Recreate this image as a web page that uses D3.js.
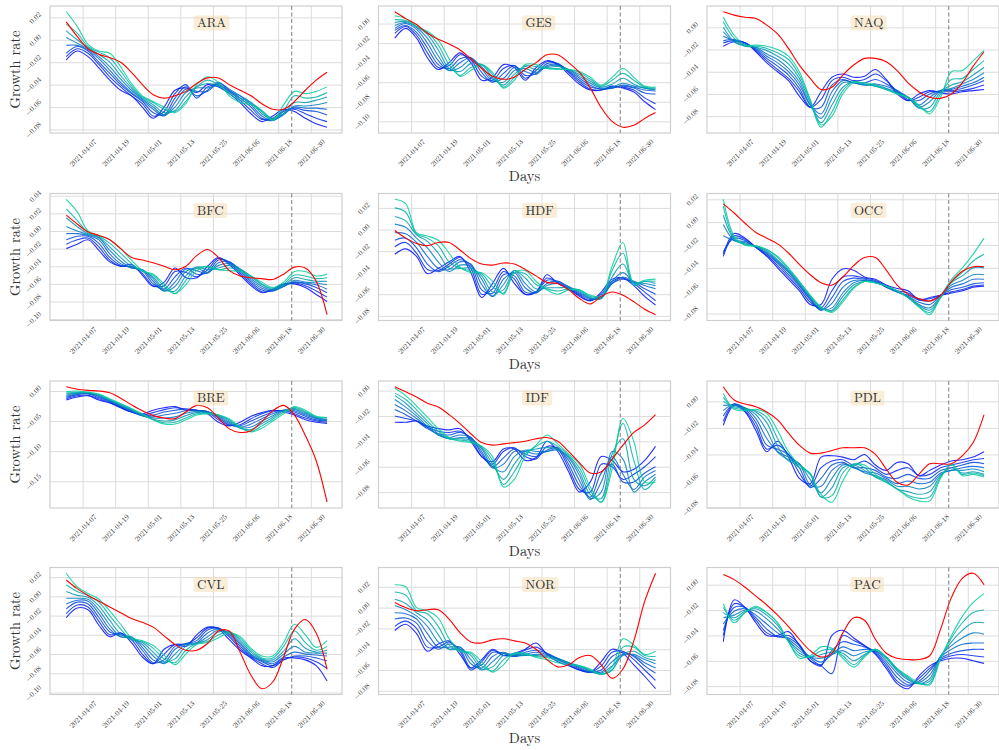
<!DOCTYPE html>
<html>
<head>
<meta charset="utf-8">
<script src="https://cdn.jsdelivr.net/npm/d3@7"></script>
<style>
  body { margin: 0; background: #fff; }
  svg text { font-family: "Latin Modern Roman", "CMU Serif", "Liberation Serif", "DejaVu Serif", serif; fill: #333; }
</style>
</head>
<body>
<svg id="chart" width="999" height="750"></svg>
<script>
// days of the estimates (every 4 days)
var dates = ["2021-04-01","2021-04-05","2021-04-09","2021-04-13","2021-04-17","2021-04-21","2021-04-25",
  "2021-04-29","2021-05-03","2021-05-07","2021-05-11","2021-05-15","2021-05-19","2021-05-23","2021-05-27",
  "2021-05-31","2021-06-04","2021-06-08","2021-06-12","2021-06-16","2021-06-20","2021-06-24","2021-06-28",
  "2021-07-02","2021-07-06"];
var xTicks = ["2021-04-07","2021-04-19","2021-05-01","2021-05-13","2021-05-25","2021-06-06","2021-06-18","2021-06-30"];
var splitDate = "2021-06-23";

// growth rate x 1000, runs ordered from first (blue) to last (green), *_ref = red curve
var ARA = [
  [-18,-10,-15,-25,-36,-45,-50,-60,-70,-60,-45,-43,-47,-40,-42,-48,-56,-66,-73,-68,-62,-64,-70,-75,-78],
  [-15,-8,-12,-22,-33,-42,-50,-57,-68,-64,-48,-40,-52,-42,-40,-46,-54,-63,-71,-70,-63,-62,-66,-70,-73],
  [-12,-6,-10,-20,-30,-40,-48,-55,-65,-67,-52,-42,-50,-45,-38,-45,-52,-60,-70,-72,-64,-61,-63,-64,-67],
  [-5,-5,-9,-17,-27,-38,-47,-54,-62,-68,-56,-44,-46,-46,-39,-44,-50,-58,-68,-72,-66,-60,-61,-61,-62],
  [2,-3,-8,-15,-24,-35,-45,-53,-60,-67,-60,-47,-43,-43,-41,-46,-50,-56,-66,-71,-67,-59,-59,-58,-56],
  [8,0,-7,-13,-20,-32,-43,-52,-58,-65,-63,-51,-42,-39,-41,-47,-52,-56,-64,-70,-66,-56,-56,-54,-51],
  [14,6,-6,-11,-16,-28,-41,-51,-56,-62,-64,-55,-42,-36,-40,-48,-54,-57,-63,-71,-63,-50,-52,-51,-47],
  [25,12,-4,-10,-12,-24,-39,-50,-55,-60,-65,-57,-40,-33,-38,-50,-56,-58,-64,-72,-58,-46,-48,-46,-42]];
var ARA_ref = [16,3,-8,-13,-16,-20,-29,-40,-49,-52,-50,-46,-39,-34,-34,-40,-45,-50,-57,-62,-62,-55,-45,-36,-29];

var BFC = [
  [-20,-15,-10,-22,-35,-40,-38,-50,-63,-58,-42,-53,-53,-40,-30,-38,-50,-62,-70,-66,-60,-60,-64,-72,-80],
  [-15,-10,-8,-18,-33,-40,-40,-48,-62,-62,-46,-47,-52,-44,-31,-36,-48,-60,-69,-67,-61,-59,-62,-68,-75],
  [-10,-6,-6,-14,-30,-39,-41,-45,-60,-66,-52,-42,-49,-47,-33,-35,-46,-58,-67,-68,-62,-58,-60,-64,-70],
  [-3,-3,-5,-10,-26,-37,-42,-44,-57,-68,-58,-43,-45,-48,-36,-35,-44,-56,-65,-68,-63,-58,-59,-61,-66],
  [5,0,-4,-8,-22,-34,-42,-44,-54,-68,-63,-46,-42,-47,-39,-37,-43,-54,-63,-67,-63,-56,-58,-59,-61],
  [15,5,-3,-7,-18,-30,-40,-45,-52,-66,-68,-51,-41,-44,-42,-39,-43,-52,-61,-66,-62,-53,-55,-57,-57],
  [25,12,-2,-6,-14,-25,-37,-46,-50,-63,-71,-56,-42,-41,-44,-42,-44,-51,-60,-65,-60,-50,-51,-54,-53],
  [36,22,0,-5,-10,-20,-33,-45,-49,-60,-71,-61,-45,-40,-44,-45,-46,-51,-58,-64,-58,-46,-46,-51,-49]];
var BFC_ref = [18,8,-1,-5,-10,-20,-30,-33,-36,-40,-44,-40,-28,-21,-30,-45,-51,-53,-54,-55,-49,-41,-42,-57,-95];

var BRE = [
  [-15,-10,-8,-15,-20,-28,-35,-38,-32,-28,-26,-32,-32,-38,-52,-58,-52,-42,-36,-32,-35,-40,-48,-52,-54],
  [-13,-8,-7,-13,-19,-27,-35,-40,-36,-31,-28,-30,-32,-35,-48,-57,-56,-46,-38,-33,-33,-38,-45,-50,-52],
  [-11,-6,-5,-11,-18,-26,-34,-41,-40,-35,-32,-30,-32,-34,-45,-56,-58,-50,-42,-35,-32,-35,-42,-48,-50],
  [-9,-5,-4,-9,-17,-25,-33,-41,-43,-40,-37,-33,-33,-34,-43,-54,-60,-55,-46,-38,-32,-33,-40,-46,-49],
  [-7,-4,-4,-8,-16,-24,-32,-41,-45,-45,-43,-37,-34,-35,-41,-52,-61,-60,-50,-41,-32,-31,-38,-45,-48],
  [-5,-3,-3,-7,-15,-23,-31,-40,-47,-50,-48,-41,-36,-36,-40,-50,-62,-64,-54,-44,-33,-29,-36,-44,-47],
  [-3,-2,-2,-6,-14,-22,-30,-39,-48,-53,-52,-45,-38,-37,-40,-48,-61,-67,-58,-47,-35,-27,-34,-43,-45],
  [-1,0,-2,-5,-13,-21,-29,-38,-48,-55,-55,-48,-40,-38,-40,-46,-60,-68,-62,-50,-38,-26,-32,-42,-44]];
var BRE_ref = [7,3,1,0,-3,-12,-23,-33,-41,-45,-46,-35,-24,-28,-45,-63,-69,-66,-51,-33,-24,-40,-74,-116,-185];

var CVL = [
  [-22,-12,-14,-30,-42,-38,-48,-63,-70,-55,-50,-52,-40,-32,-34,-45,-56,-64,-72,-72,-64,-64,-66,-72,-88],
  [-18,-9,-11,-26,-40,-38,-45,-60,-70,-60,-50,-50,-43,-33,-33,-42,-54,-63,-70,-74,-66,-63,-64,-68,-75],
  [-13,-6,-8,-22,-37,-40,-43,-56,-69,-66,-52,-49,-46,-35,-33,-40,-52,-62,-68,-72,-66,-62,-62,-64,-67],
  [-8,-4,-5,-18,-34,-42,-42,-53,-66,-69,-55,-49,-48,-38,-34,-39,-50,-61,-67,-70,-63,-58,-60,-61,-62],
  [-2,-2,-3,-14,-30,-42,-43,-50,-62,-70,-60,-50,-49,-42,-35,-38,-48,-60,-66,-68,-60,-52,-58,-59,-59],
  [5,1,-1,-10,-25,-39,-45,-48,-58,-68,-65,-52,-49,-45,-37,-37,-46,-58,-65,-66,-57,-44,-54,-58,-56],
  [12,5,1,-6,-20,-34,-45,-47,-54,-65,-69,-56,-49,-47,-40,-37,-44,-56,-64,-64,-52,-36,-48,-56,-52],
  [24,10,3,-3,-15,-29,-43,-46,-51,-61,-71,-60,-50,-48,-43,-38,-42,-54,-62,-62,-48,-29,-40,-53,-46]];
var CVL_ref = [17,8,1,-5,-11,-17,-23,-27,-32,-41,-50,-56,-56,-49,-36,-36,-58,-82,-96,-89,-63,-34,-24,-38,-76];

var GES = [
  [-15,-5,-15,-35,-47,-40,-30,-40,-58,-55,-42,-45,-58,-45,-38,-42,-52,-62,-68,-68,-64,-66,-70,-80,-88],
  [-10,-3,-12,-30,-45,-43,-32,-37,-54,-58,-46,-43,-56,-48,-39,-41,-50,-60,-67,-68,-65,-65,-68,-76,-82],
  [-7,-2,-9,-25,-42,-46,-36,-35,-50,-60,-51,-43,-53,-51,-41,-41,-49,-58,-65,-67,-66,-64,-66,-71,-72],
  [-5,0,-6,-20,-38,-48,-40,-35,-46,-59,-56,-45,-49,-52,-43,-42,-48,-56,-63,-67,-66,-63,-65,-68,-69],
  [-2,1,-4,-15,-33,-48,-45,-37,-44,-57,-60,-48,-46,-50,-44,-43,-47,-54,-61,-66,-65,-61,-64,-66,-68],
  [1,2,-3,-11,-27,-46,-49,-41,-42,-55,-63,-52,-44,-47,-45,-44,-47,-52,-59,-65,-62,-56,-62,-66,-67],
  [4,3,-3,-9,-22,-42,-53,-45,-42,-52,-65,-55,-43,-44,-46,-46,-47,-50,-57,-64,-58,-51,-58,-65,-66],
  [8,5,-3,-8,-17,-36,-54,-48,-42,-50,-66,-58,-42,-42,-46,-47,-47,-49,-55,-63,-55,-46,-55,-64,-65]];
var GES_ref = [12,5,-1,-10,-16,-21,-27,-36,-46,-54,-57,-55,-47,-40,-32,-32,-40,-50,-66,-86,-100,-106,-104,-97,-91];

var HDF = [
  [-23,-18,-25,-41,-36,-30,-25,-40,-63,-50,-36,-50,-60,-58,-42,-50,-55,-62,-66,-58,-46,-45,-52,-62,-70],
  [-16,-12,-22,-37,-38,-32,-26,-36,-60,-55,-39,-46,-60,-58,-45,-49,-55,-61,-66,-60,-48,-45,-50,-58,-66],
  [-10,-8,-17,-32,-39,-34,-28,-33,-56,-59,-42,-43,-58,-58,-47,-48,-54,-60,-65,-62,-50,-46,-49,-55,-60],
  [-3,-4,-12,-25,-36,-37,-30,-32,-51,-62,-46,-40,-54,-59,-50,-48,-53,-59,-64,-63,-50,-44,-48,-52,-55],
  [5,2,-8,-17,-30,-39,-33,-34,-46,-62,-51,-38,-50,-58,-52,-50,-53,-58,-64,-64,-48,-40,-49,-50,-52],
  [12,8,-5,-11,-22,-36,-36,-36,-43,-58,-56,-38,-45,-55,-54,-54,-54,-57,-63,-64,-44,-32,-50,-48,-50],
  [20,16,-4,-8,-15,-30,-36,-38,-41,-53,-59,-40,-41,-51,-55,-57,-55,-56,-62,-63,-38,-22,-52,-48,-48],
  [28,24,-3,-6,-10,-22,-35,-40,-40,-48,-60,-40,-38,-48,-56,-60,-56,-56,-61,-62,-34,-12,-50,-47,-46]];
var HDF_ref = [-1,-8,-13,-15,-12,-12,-19,-27,-32,-33,-31,-32,-37,-43,-49,-50,-56,-64,-69,-62,-58,-61,-67,-74,-79];

var IDF = [
  [-25,-25,-24,-28,-30,-31,-30,-40,-52,-56,-46,-46,-55,-53,-40,-48,-64,-80,-72,-52,-55,-64,-62,-55,-44],
  [-20,-22,-24,-29,-32,-33,-32,-38,-52,-58,-48,-45,-52,-54,-44,-46,-61,-78,-80,-58,-60,-70,-66,-60,-52],
  [-15,-19,-24,-30,-34,-35,-33,-37,-50,-60,-53,-46,-50,-52,-47,-45,-58,-75,-84,-65,-58,-72,-72,-65,-60],
  [-11,-16,-22,-29,-35,-37,-35,-37,-48,-61,-58,-48,-48,-50,-48,-46,-55,-71,-86,-72,-52,-66,-78,-68,-63],
  [-7,-13,-20,-28,-35,-38,-37,-38,-46,-60,-64,-52,-47,-48,-48,-47,-53,-67,-85,-80,-48,-54,-80,-72,-66],
  [-4,-10,-18,-26,-34,-38,-38,-39,-45,-58,-70,-58,-48,-46,-45,-46,-52,-64,-82,-85,-50,-38,-70,-75,-68],
  [-2,-7,-15,-24,-32,-38,-39,-40,-44,-55,-74,-64,-50,-44,-40,-44,-51,-61,-79,-88,-56,-26,-55,-78,-70],
  [2,-4,-12,-21,-30,-37,-40,-41,-44,-52,-76,-70,-52,-43,-35,-42,-50,-58,-76,-88,-62,-22,-40,-72,-72]];
var IDF_ref = [3,-1,-5,-10,-13,-19,-26,-34,-41,-43,-42,-41,-40,-38,-37,-40,-48,-57,-65,-64,-54,-43,-33,-27,-19];

var NOR = [
  [-22,-16,-25,-42,-35,-32,-45,-58,-50,-40,-46,-44,-40,-34,-45,-52,-56,-60,-62,-52,-40,-44,-55,-66,-78],
  [-18,-13,-20,-38,-38,-33,-42,-60,-52,-41,-46,-46,-41,-38,-44,-50,-55,-60,-62,-56,-43,-42,-50,-60,-70],
  [-11,-10,-15,-32,-40,-35,-40,-58,-55,-43,-44,-47,-43,-41,-44,-49,-54,-59,-62,-60,-47,-43,-47,-56,-63],
  [-5,-6,-11,-25,-38,-38,-38,-54,-58,-47,-43,-47,-45,-43,-45,-49,-53,-58,-62,-62,-52,-45,-46,-53,-58],
  [2,-2,-8,-18,-33,-40,-38,-50,-60,-52,-44,-46,-46,-45,-46,-49,-53,-57,-61,-63,-56,-46,-45,-50,-54],
  [8,4,-5,-12,-26,-40,-40,-46,-59,-57,-46,-45,-46,-46,-47,-50,-53,-56,-61,-64,-60,-45,-42,-48,-51],
  [15,12,-3,-6,-18,-36,-42,-44,-56,-61,-50,-44,-45,-47,-48,-51,-54,-56,-60,-64,-60,-38,-38,-46,-47],
  [22,20,0,-3,-10,-30,-42,-43,-52,-62,-55,-44,-44,-48,-50,-53,-55,-56,-59,-64,-57,-30,-36,-45,-42]];
var NOR_ref = [5,0,-3,-2,-2,-11,-24,-33,-34,-31,-30,-32,-34,-40,-50,-57,-55,-48,-46,-55,-68,-59,-32,6,33];

var NAQ = [
  [-17,-13,-14,-22,-32,-40,-48,-62,-72,-58,-45,-42,-45,-44,-38,-47,-60,-66,-60,-57,-59,-60,-58,-57,-56],
  [-14,-12,-14,-21,-30,-38,-46,-58,-72,-65,-48,-45,-48,-47,-42,-48,-58,-66,-63,-58,-58,-58,-57,-55,-52],
  [-12,-11,-14,-20,-28,-35,-43,-55,-72,-72,-52,-47,-50,-50,-47,-51,-57,-65,-66,-60,-57,-57,-55,-52,-48],
  [-8,-12,-15,-19,-26,-32,-40,-52,-70,-78,-58,-48,-50,-52,-51,-53,-57,-63,-70,-63,-57,-56,-53,-50,-45],
  [-4,-13,-16,-18,-24,-29,-37,-49,-70,-82,-64,-50,-50,-52,-52,-55,-58,-63,-72,-67,-57,-55,-51,-47,-41],
  [0,-13,-17,-18,-21,-26,-33,-46,-68,-86,-70,-54,-49,-51,-53,-56,-59,-63,-73,-72,-58,-52,-49,-43,-36],
  [5,-10,-17,-17,-19,-23,-29,-43,-66,-90,-76,-57,-49,-51,-53,-56,-60,-63,-71,-76,-60,-47,-46,-38,-30],
  [9,-7,-16,-16,-17,-20,-26,-40,-65,-88,-80,-60,-50,-50,-52,-56,-60,-63,-70,-78,-63,-40,-39,-30,-21]];
var NAQ_ref = [14,11,9,8,2,-6,-19,-34,-46,-56,-54,-43,-34,-28,-28,-31,-39,-50,-58,-63,-64,-60,-50,-35,-22];

var OCC = [
  [-28,-10,-14,-22,-30,-40,-50,-60,-72,-72,-50,-41,-42,-48,-50,-55,-58,-60,-68,-66,-64,-62,-60,-57,-56],
  [-30,-12,-15,-22,-29,-38,-48,-58,-70,-75,-60,-48,-47,-49,-51,-56,-60,-62,-67,-67,-64,-61,-59,-56,-55],
  [-26,-14,-16,-22,-28,-36,-46,-56,-68,-77,-66,-52,-49,-50,-52,-57,-61,-64,-68,-69,-64,-59,-57,-54,-53],
  [-12,-16,-17,-22,-27,-35,-44,-55,-67,-77,-71,-57,-51,-51,-52,-57,-61,-65,-70,-72,-64,-57,-54,-50,-50],
  [-2,-16,-18,-21,-26,-34,-43,-54,-66,-76,-75,-62,-53,-51,-53,-56,-61,-65,-72,-75,-65,-55,-51,-46,-46],
  [6,-15,-19,-21,-25,-33,-42,-53,-65,-75,-77,-65,-55,-52,-53,-56,-60,-66,-73,-77,-66,-53,-47,-40,-40],
  [14,-14,-20,-21,-24,-31,-41,-52,-64,-75,-78,-68,-57,-52,-53,-56,-60,-66,-74,-79,-66,-52,-44,-34,-28],
  [20,-12,-20,-21,-24,-30,-40,-52,-64,-74,-79,-70,-58,-52,-53,-56,-60,-66,-74,-81,-65,-50,-40,-28,-14]];
var OCC_ref = [16,8,-1,-9,-14,-19,-27,-37,-46,-53,-55,-48,-38,-31,-31,-42,-55,-63,-67,-69,-64,-52,-43,-39,-39];

var PDL = [
  [-18,-3,-8,-22,-38,-30,-42,-58,-62,-42,-41,-42,-44,-40,-48,-52,-46,-47,-56,-52,-48,-45,-44,-42,-38],
  [-15,-2,-7,-19,-36,-33,-40,-54,-64,-50,-45,-44,-48,-45,-50,-55,-52,-50,-56,-55,-50,-48,-46,-44,-43],
  [-11,-2,-6,-16,-33,-36,-40,-50,-65,-58,-48,-46,-50,-50,-52,-57,-58,-55,-58,-58,-52,-50,-48,-46,-47],
  [-7,-2,-5,-13,-28,-38,-42,-47,-63,-64,-52,-47,-50,-53,-54,-58,-62,-60,-62,-61,-54,-52,-50,-49,-50],
  [-3,-3,-5,-10,-22,-38,-44,-47,-59,-69,-58,-48,-49,-54,-56,-59,-64,-64,-66,-64,-55,-52,-52,-51,-53],
  [0,-4,-5,-8,-16,-34,-45,-48,-55,-72,-65,-50,-48,-52,-57,-60,-66,-68,-70,-68,-56,-50,-54,-53,-55],
  [3,-5,-6,-7,-12,-28,-42,-50,-54,-72,-71,-54,-47,-50,-57,-61,-66,-71,-73,-72,-57,-48,-55,-54,-56],
  [6,-6,-7,-6,-9,-22,-38,-48,-55,-70,-76,-60,-48,-48,-55,-61,-66,-72,-75,-75,-58,-47,-56,-55,-57]];
var PDL_ref = [11,1,-2,-4,-8,-14,-24,-33,-39,-39,-37,-35,-35,-35,-40,-51,-61,-63,-55,-47,-47,-47,-41,-31,-10];

var PAC = [
  [-45,-12,-18,-30,-40,-40,-37,-48,-60,-64,-40,-36,-42,-48,-55,-66,-78,-82,-72,-64,-60,-58,-58,-60,-62],
  [-40,-15,-18,-28,-38,-41,-40,-47,-60,-64,-70,-40,-44,-48,-54,-64,-76,-80,-74,-66,-59,-56,-55,-56,-57],
  [-36,-18,-18,-26,-35,-41,-42,-48,-58,-63,-52,-45,-47,-49,-53,-62,-73,-79,-76,-68,-58,-54,-52,-51,-51],
  [-31,-21,-19,-24,-31,-38,-43,-50,-57,-61,-55,-49,-52,-51,-52,-60,-70,-77,-77,-71,-57,-51,-47,-46,-46],
  [-26,-24,-20,-21,-27,-35,-44,-52,-57,-58,-55,-52,-56,-53,-52,-58,-68,-75,-78,-74,-56,-48,-42,-38,-39],
  [-22,-26,-21,-19,-24,-32,-44,-54,-57,-55,-53,-54,-60,-55,-51,-57,-67,-74,-78,-76,-57,-45,-36,-30,-30],
  [-18,-28,-22,-18,-22,-30,-45,-56,-57,-52,-51,-56,-63,-56,-51,-57,-66,-73,-78,-78,-58,-42,-30,-22,-20],
  [-15,-30,-22,-17,-22,-30,-45,-58,-56,-49,-50,-58,-65,-57,-51,-58,-66,-72,-77,-79,-58,-40,-25,-14,-7]];
var PAC_ref = [8,4,-2,-9,-16,-24,-33,-43,-52,-57,-54,-38,-26,-28,-43,-54,-58,-59,-59,-56,-35,-10,5,9,0];

// panels, column by column
var panels = [
  ["ARA", ARA, ARA_ref], ["BFC", BFC, BFC_ref], ["BRE", BRE, BRE_ref], ["CVL", CVL, CVL_ref],
  ["GES", GES, GES_ref], ["HDF", HDF, HDF_ref], ["IDF", IDF, IDF_ref], ["NOR", NOR, NOR_ref],
  ["NAQ", NAQ, NAQ_ref], ["OCC", OCC, OCC_ref], ["PDL", PDL, PDL_ref], ["PAC", PAC, PAC_ref]
];

var parse = d3.timeParse("%Y-%m-%d");
var days = dates.map(parse);
var W = 292, H = 127;
var colLeft = [50, 378.5, 707];
var rowTop = [6, 193.5, 381, 567.5];
var fmt = d3.format(".2f");

var x = d3.scaleTime()
    .domain([parse("2021-03-26"), new Date(2021, 6, 11, 12)])
    .range([0, W]);

// winter colormap, cut before full green
function winter(i, n) {
  var t = 0.05 + 0.75 * i / (n - 1);
  return d3.rgb(0, 255 * t, 255 * (1 - 0.5 * t)).toString();
}

var svg = d3.select("#chart");

panels.forEach(function(p, n) {
  var col = Math.floor(n / 4), row = n % 4;
  var g = svg.append("g")
      .attr("transform", "translate(" + colLeft[col] + "," + rowTop[row] + ")");

  var all = d3.merge(p[1]).concat(p[2]);
  var ext = d3.extent(all), pad = (ext[1] - ext[0]) * 0.05;
  var y = d3.scaleLinear()
      .domain([(ext[0] - pad) / 1000, (ext[1] + pad) / 1000])
      .range([H, 0]);

  // x grid + rotated labels
  var gx = g.append("g")
      .attr("transform", "translate(0," + H + ")")
      .call(d3.axisBottom(x).tickValues(xTicks.map(parse))
        .tickFormat(d3.timeFormat("%Y-%m-%d")).tickSize(-H));
  gx.select(".domain").remove();
  gx.selectAll("line").attr("stroke", "#dcdcdc").attr("stroke-width", 1);
  gx.selectAll("text")
      .attr("y", 0).attr("dy", ".32em")
      .attr("font-size", 7.5)
      .attr("text-anchor", "middle")
      .attr("transform", "translate(0,20) rotate(-45)");

  // y grid + rotated labels
  var gy = g.append("g")
      .call(d3.axisLeft(y).ticks(5).tickFormat(fmt).tickSize(-W));
  gy.select(".domain").remove();
  gy.selectAll("line").attr("stroke", "#dcdcdc").attr("stroke-width", 1);
  gy.selectAll("text")
      .attr("x", 0).attr("dy", ".32em")
      .attr("font-size", 7.5)
      .attr("text-anchor", "end")
      .attr("transform", function() {
        var L = this.getComputedTextLength();
        return "translate(-10," + (-L * 0.354) + ") rotate(-45)";
      });

  g.append("rect")
      .attr("width", W).attr("height", H)
      .attr("fill", "none")
      .attr("stroke", "#cfcfcf")
      .attr("stroke-width", 1.2);

  var line = d3.line()
      .x(function(v, i) { return x(days[i]); })
      .y(function(v) { return y(v / 1000); })
      .curve(d3.curveCatmullRom.alpha(0.5));

  g.selectAll("path.run")
      .data(p[1])
      .join("path")
      .attr("class", "run")
      .attr("d", line)
      .attr("fill", "none")
      .attr("stroke", function(d, i) { return winter(i, p[1].length); })
      .attr("stroke-opacity", 0.85)
      .attr("stroke-width", 1.1);

  g.append("path")
      .attr("d", line(p[2]))
      .attr("fill", "none")
      .attr("stroke", "red")
      .attr("stroke-width", 1.1);

  // vertical dashed line
  g.append("line")
      .attr("x1", x(parse(splitDate))).attr("x2", x(parse(splitDate)))
      .attr("y1", 0).attr("y2", H)
      .attr("stroke", "#7f7f7f")
      .attr("stroke-width", 1)
      .attr("stroke-dasharray", "4,2.5");

  // region label in a box
  var tx = W * 0.5 + 1;
  var box = g.append("rect");
  var label = g.append("text")
      .attr("x", tx).attr("y", 21)
      .attr("font-size", 13)
      .attr("fill", "#3a3a3a")
      .text(p[0]);
  var tw = label.node().getComputedTextLength();
  box.attr("x", tx - 3.5).attr("y", 9.5)
      .attr("width", tw + 7).attr("height", 15)
      .attr("rx", 2.5)
      .attr("fill", "#f5deb3")
      .attr("fill-opacity", 0.5);

  if (col === 0) {
    g.append("text")
        .attr("transform", "translate(-30," + (H / 2) + ") rotate(-90)")
        .attr("text-anchor", "middle")
        .attr("font-size", 14.5)
        .attr("fill", "#333")
        .text("Growth rate");
  }
  if (col === 1) {
    g.append("text")
        .attr("x", W / 2).attr("y", H + 48)
        .attr("text-anchor", "middle")
        .attr("font-size", 14.5)
        .attr("fill", "#333")
        .text("Days");
  }
});
</script>
</body>
</html>
